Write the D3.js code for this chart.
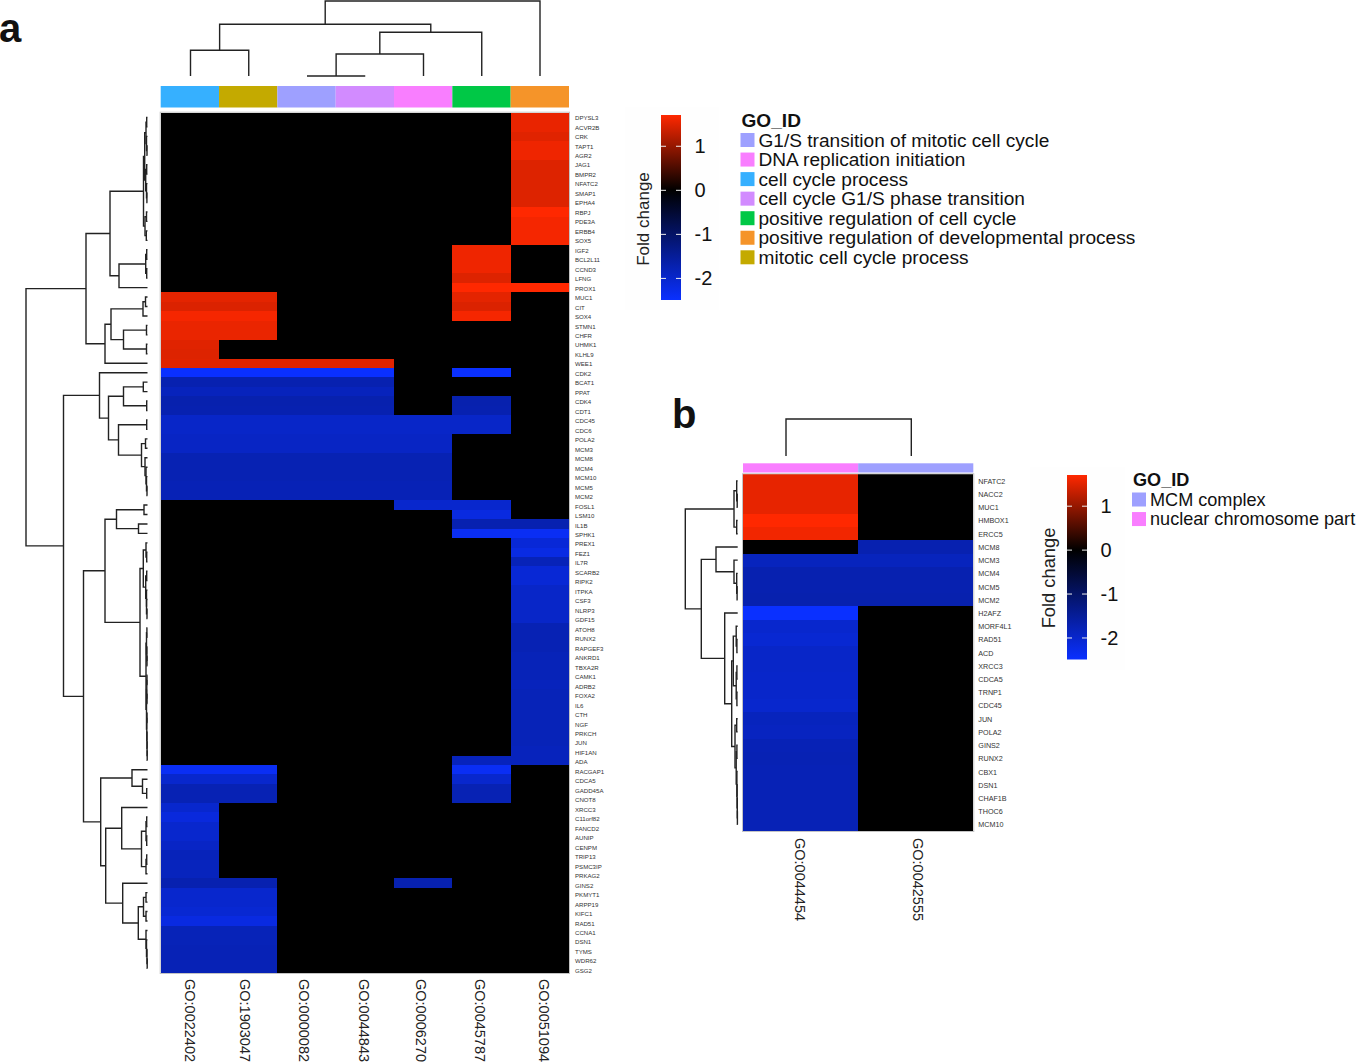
<!DOCTYPE html>
<html>
<head>
<meta charset="utf-8">
<script src="https://cdn.jsdelivr.net/npm/d3@7"></script>
<style>
  body { margin: 0; background: #fff; }
  text { font-family: "Liberation Sans", Arial, sans-serif; }
</style>
</head>
<body>
<div id="chart"></div>
<script>
// panel a
const columnsA = ['GO:0022402', 'GO:1903047', 'GO:0000082', 'GO:0044843', 'GO:0006270', 'GO:0045787', 'GO:0051094'];
const genesA = ['DPYSL3', 'ACVR2B', 'CRK', 'TAPT1', 'AGR2', 'JAG1', 'BMPR2', 'NFATC2', 'SMAP1', 'EPHA4',
  'RBPJ', 'PDE3A', 'ERBB4', 'SOX5', 'IGF2', 'BCL2L11', 'CCND3', 'LFNG', 'PROX1', 'MUC1',
  'CIT', 'SOX4', 'STMN1', 'CHFR', 'UHMK1', 'KLHL9', 'WEE1', 'CDK2', 'BCAT1', 'PPAT',
  'CDK4', 'CDT1', 'CDC45', 'CDC6', 'POLA2', 'MCM3', 'MCM8', 'MCM4', 'MCM10', 'MCM5',
  'MCM2', 'FOSL1', 'LSM10', 'IL1B', 'SPHK1', 'PREX1', 'FEZ1', 'IL7R', 'SCARB2', 'RIPK2',
  'ITPKA', 'CSF3', 'NLRP3', 'GDF15', 'ATOH8', 'RUNX2', 'RAPGEF3', 'ANKRD1', 'TBXA2R', 'CAMK1',
  'ADRB2', 'FOXA2', 'IL6', 'CTH', 'NGF', 'PRKCH', 'JUN', 'HIF1AN', 'ADA', 'RACGAP1',
  'CDCA5', 'GADD45A', 'CNOT8', 'XRCC3', 'C11orf82', 'FANCD2', 'AUNIP', 'CENPM', 'TRIP13', 'PSMC3IP',
  'PRKAG2', 'GINS2', 'PKMYT1', 'ARPP19', 'KIFC1', 'RAD51', 'CCNA1', 'DSN1', 'TYMS', 'WDR62', 'GSG2'];
const foldChangeA = [1.56, 1.56, 1.5, 1.6, 1.6, 1.48, 1.48, 1.48, 1.48, 1.48,
  1.71, 1.64, 1.64, 1.64, 1.6, 1.6, 1.6, 1.48, 1.71, 1.53,
  1.47, 1.64, 1.57, 1.57, 1.5, 1.48, 1.5, -2.49, -1.72, -1.84,
  -1.7, -1.72, -1.95, -1.95, -1.91, -1.91, -1.75, -1.75, -1.75, -1.78,
  -1.78, -2, -2.19, -1.72, -2.38, -2.1, -2.22, -1.8, -2.08, -2.08,
  -1.95, -1.95, -1.95, -1.95, -1.76, -1.76, -1.76, -1.8, -1.8, -1.8,
  -1.84, -1.8, -1.8, -1.8, -1.8, -1.8, -1.8, -1.84, -1.84, -2.38,
  -2, -1.76, -1.76, -2, -2.15, -2, -2, -1.92, -1.82, -1.85,
  -1.85, -1.72, -2, -2, -2.05, -2.2, -1.8, -1.8, -1.78, -1.78, -1.78];
// which columns (by index) each gene is annotated in
const membersA = ['6', '6', '6', '6', '6', '6', '6', '6', '6', '6',
  '6', '6', '6', '6', '5', '5', '5', '5', '56', '015',
  '015', '015', '01', '01', '0', '0', '0123', '01235', '0123', '0123',
  '01235', '01235', '012345', '012345', '01234', '01234', '01234', '01234', '01234', '01234',
  '01234', '45', '5', '56', '56', '6', '6', '6', '6', '6',
  '6', '6', '6', '6', '6', '6', '6', '6', '6', '6',
  '6', '6', '6', '6', '6', '6', '6', '6', '56', '015',
  '015', '015', '015', '0', '0', '0', '0', '0', '0', '0',
  '0', '014', '01', '01', '01', '01', '01', '01', '01', '01', '01'];
const goNamesA = ['G1/S transition of mitotic cell cycle', 'DNA replication initiation', 'cell cycle process',
  'cell cycle G1/S phase transition', 'positive regulation of cell cycle',
  'positive regulation of developmental process', 'mitotic cell cycle process'];
const goColorsA = ['#9ea0ff', '#f97eff', '#36b0ff', '#d28bff', '#00c846', '#f59429', '#c4aa00'];
const stripColorsA = ['#36b0ff', '#c4aa00', '#9ea0ff', '#d28bff', '#f97eff', '#00c846', '#f59429'];
// trees are [height, left, right], leaves are indices into the rows/columns
const rowTreeA = [121.5,
  [61.5,
    [37.5,
      [4, [2.8, [1.5, [0.8, 0, 1], [1, 2, [0.5, 3, 4]]], [1.8, [0.8, 5, 6], [1, 7, [0.6, 8, 9]]]], [2.5, [1, 10, 11], [1.2, 12, 13]]],
      [28.5, [1.8, [0.8, 14, 15], [0.8, 16, 17]], 18]],
    [42.5,
      [36.5, [4.5, [2, 19, 20], 21], [24, [1, 22, 23], [1, 24, 25]]],
      26]],
  [84,
    [48, 27,
      [39,
        [24, [4.2, 28, 29], [0.8, 30, 31]],
        [29, [0.8, 32, 33], [6, [2, 34, 35], [2.5, 36, [1.5, 37, [1, 38, [0.5, 39, 40]]]]]]]],
    [64,
      [42.5,
        [31, [3.5, 41, 42], [9, 43, 44]],
        [7.5,
          [4.2, [1.5, 45, [0.8, 46, 47]], [1.8, [0.8, 48, 49], [1, 50, [1, 51, [0.5, 52, 53]]]]],
          [1.5, [1, [0.6, 54, 55], [0.6, 56, [0.5, 57, 58]]], [1, [0.7, [0.5, 59, 60], [0.5, 61, 62]], [0.7, [0.5, 63, 64], [0.5, 65, [0.4, 66, [0.3, 67, 68]]]]]]]],
      [46.8,
        [15.5, 69, [5, 70, [0.8, 71, 72]]],
        [41.8,
          [25.8, 73, [6, [1.5, [0.8, 74, 75], [0.8, 76, 77]], [1.5, [0.8, 78, 79], 80]]],
          [24.8, 81, [9.2, [4, [1.5, 82, 83], [1.5, 84, 85]], [1.5, 86, [1, 87, [0.5, 88, [0.3, 89, 90]]]]]]]]]]];
const colTreeA = [75, [51.7, [25.7, 0, 1], [43.7, [22, [0, 2, 3], 4], 5]], 6];

// panel b
const columnsB = ['GO:0044454', 'GO:0042555'];
const genesB = ['NFATC2', 'NACC2', 'MUC1', 'HMBOX1', 'ERCC5', 'MCM8', 'MCM3', 'MCM4', 'MCM5', 'MCM2',
  'H2AFZ', 'MORF4L1', 'RAD51', 'ACD', 'XRCC3', 'CDCA5', 'TRNP1', 'CDC45', 'JUN', 'POLA2',
  'GINS2', 'RUNX2', 'CBX1', 'DSN1', 'CHAF1B', 'THOC6', 'MCM10'];
const foldChangeB = [1.55, 1.55, 1.55, 1.71, 1.62, -1.72, -1.85, -1.72, -1.72, -1.7,
  -2.49, -2, -2.05, -1.95, -1.95, -1.97, -1.97, -2, -1.85, -1.87,
  -1.78, -1.76, -1.78, -1.78, -1.78, -1.78, -1.78];
const membersB = ['0', '0', '0', '0', '0', '1', '01', '01', '01', '01',
  '0', '0', '0', '0', '0', '0', '0', '0', '0', '0',
  '0', '0', '0', '0', '0', '0', '0'];
const goNamesB = ['MCM complex', 'nuclear chromosome part'];
const goColorsB = ['#9ea0ff', '#f97eff'];
const stripColorsB = ['#f97eff', '#9ea0ff'];
const rowTreeB = [52.4,
  [3.7, [1, 0, [0.5, 1, 2]], [1, 3, 4]],
  [36.4,
    [21.7, 5, [3.7, 6, [1, 7, [0.6, 8, 9]]]],
    [13, 10,
      [6,
        [4.4, [1.5, 11, [0.8, 12, 13]], [1.5, [0.8, 14, 15], [0.8, 16, 17]]],
        [2.7, [1, 18, 19], [1.5, [0.8, 20, 21], [0.8, 22, [0.6, 23, [0.4, 24, [0.3, 25, 26]]]]]]]]]];
const colTreeB = [37, 0, 1];

const legendTicks = [-2, -1, 0, 1];
const colorMin = -2.49;
const colorMax = 1.71;

const color = d3.scaleLinear()
  .domain([colorMin, 0, colorMax])
  .range(['#0a30ff', '#000000', '#ff2800']);

const svg = d3.select('#chart').append('svg')
  .attr('width', 1357)
  .attr('height', 1064)
  .style('display', 'block');

const gradient = svg.append('defs').append('linearGradient')
  .attr('id', 'foldGradient')
  .attr('x1', 0).attr('x2', 0).attr('y1', 1).attr('y2', 0);
gradient.selectAll('stop')
  .data([colorMin, 0, colorMax])
  .join('stop')
    .attr('offset', d => (d - colorMin) / (colorMax - colorMin))
    .attr('stop-color', d => color(d));

function dendrogram(g, tree, leafPos, heightPos, horizontal) {
  const segs = [];
  function walk(node) {
    if (!Array.isArray(node)) return { p: leafPos(node), h: heightPos(0) };
    const a = walk(node[1]);
    const b = walk(node[2]);
    const h = heightPos(node[0]);
    segs.push([[a.h, a.p], [h, a.p], [h, b.p], [b.h, b.p]]);
    return { p: (a.p + b.p) / 2, h: h };
  }
  walk(tree);
  const line = d3.line().x(d => horizontal ? d[0] : d[1]).y(d => horizontal ? d[1] : d[0]);
  g.selectAll('path')
    .data(segs)
    .join('path')
      .attr('d', line)
      .attr('fill', 'none')
      .attr('stroke', '#222')
      .attr('stroke-width', 1.4);
}

function heatmap(opt) {
  const x = d3.scaleBand().domain(opt.columns).range(opt.xRange);
  const y = d3.scaleBand().domain(opt.genes).range(opt.yRange);
  const labelY = d3.scaleBand().domain(opt.genes).range(opt.geneRange);

  const cells = opt.genes.flatMap((gene, i) => opt.columns.map((col, j) => ({
    gene: gene,
    col: col,
    value: opt.members[i].includes(String(j)) ? opt.values[i] : 0
  })));

  svg.append('g')
    .attr('shape-rendering', 'crispEdges')
    .selectAll('rect')
    .data(cells)
    .join('rect')
      .attr('x', d => x(d.col))
      .attr('y', d => y(d.gene))
      .attr('width', x.bandwidth())
      .attr('height', y.bandwidth())
      .attr('fill', d => color(d.value));

  svg.append('rect')
    .attr('x', opt.xRange[0] - 0.5)
    .attr('y', opt.yRange[0] - 0.5)
    .attr('width', opt.xRange[1] - opt.xRange[0] + 1)
    .attr('height', opt.yRange[1] - opt.yRange[0] + 1)
    .attr('fill', 'none')
    .attr('stroke', '#c4c4c4');

  // column annotation strip
  svg.append('g')
    .selectAll('rect')
    .data(opt.columns)
    .join('rect')
      .attr('x', d => x(d))
      .attr('y', opt.stripY[0])
      .attr('width', x.bandwidth())
      .attr('height', opt.stripY[1] - opt.stripY[0])
      .attr('fill', (d, i) => opt.stripColors[i]);

  // gene labels
  svg.append('g')
    .selectAll('text')
    .data(opt.genes)
    .join('text')
      .attr('x', opt.xRange[1] + opt.geneGap)
      .attr('y', d => labelY(d) + labelY.bandwidth() / 2)
      .attr('dy', '0.35em')
      .attr('font-size', opt.geneSize)
      .attr('fill', '#333')
      .text(d => d);

  // GO labels, rotated
  svg.append('g')
    .selectAll('text')
    .data(opt.columns)
    .join('text')
      .attr('transform', (d, i) => `translate(${x(d) + x.bandwidth() / 2 + opt.labelNudge[i]},${opt.labelY}) rotate(90)`)
      .attr('dy', '0.35em')
      .attr('font-size', 14.5)
      .attr('fill', '#222')
      .text(d => d);

  const rowHeight = d3.scaleLinear()
    .domain([0, opt.rowTree[0]])
    .range([opt.rowLeaf, opt.rowRoot]);
  dendrogram(svg.append('g'), opt.rowTree, i => y(opt.genes[i]) + y.bandwidth() / 2, rowHeight, true);

  const colPoint = d3.scalePoint().domain(d3.range(opt.columns.length)).range(opt.colLeafRange);
  const colHeight = d3.scaleLinear()
    .domain([0, opt.colTree[0]])
    .range([opt.colLeaf, opt.colRoot]);
  dendrogram(svg.append('g'), opt.colTree, colPoint, colHeight, false);
}

function legend(opt) {
  const y = d3.scaleLinear().domain([colorMin, colorMax]).range(opt.barY);
  const barW = 20;

  svg.append('rect')
    .attr('x', opt.backX[0])
    .attr('y', opt.barY[1] - 8)
    .attr('width', opt.backX[1] - opt.backX[0])
    .attr('height', opt.barY[0] - opt.barY[1] + 18)
    .attr('fill', '#fefefe');

  svg.append('rect')
    .attr('x', opt.barX)
    .attr('y', opt.barY[1])
    .attr('width', barW)
    .attr('height', opt.barY[0] - opt.barY[1])
    .attr('fill', 'url(#foldGradient)');

  svg.selectAll(null)
    .data(legendTicks)
    .join('path')
      .attr('d', d => `M${opt.barX},${y(d)}h5M${opt.barX + barW - 5},${y(d)}h5`)
      .attr('stroke', '#eee')
      .attr('stroke-width', 1);

  const axis = svg.append('g')
    .attr('transform', `translate(${opt.barX + barW},0)`)
    .call(d3.axisRight(y).tickValues(legendTicks).tickSize(0).tickPadding(13.5).tickFormat(String));
  axis.select('.domain').remove();
  axis.selectAll('text')
    .attr('font-size', 20)
    .attr('font-family', '"Liberation Sans", Arial, sans-serif')
    .attr('fill', '#111');

  svg.append('text')
    .attr('transform', `translate(${opt.titleX},${opt.titleY}) rotate(-90)`)
    .attr('text-anchor', 'middle')
    .attr('font-size', opt.titleSize)
    .attr('fill', '#222')
    .text('Fold change');

  svg.append('text')
    .attr('x', opt.keyX)
    .attr('y', opt.keyY - 19.5)
    .attr('dy', '0.35em')
    .attr('font-size', opt.keySize)
    .attr('font-weight', 'bold')
    .attr('fill', '#111')
    .text('GO_ID');

  const row = svg.append('g')
    .selectAll('g')
    .data(opt.names)
    .join('g')
      .attr('transform', (d, i) => `translate(${opt.keyX},${opt.keyY + i * 19.55})`);
  row.append('rect')
    .attr('x', -1)
    .attr('y', -7)
    .attr('width', 14)
    .attr('height', 14)
    .attr('fill', (d, i) => opt.colors[i]);
  row.append('text')
    .attr('x', 17)
    .attr('dy', '0.35em')
    .attr('font-size', opt.keySize)
    .attr('fill', '#111')
    .text(d => d);
}

legend({
  barX: 661, barY: [300, 115], backX: [625, 719], titleX: 649, titleY: 219, titleSize: 17,
  keyX: 741.5, keyY: 140, keySize: 19.1, names: goNamesA, colors: goColorsA
});

legend({
  barX: 1067, barY: [659.5, 475], backX: [1030, 1125], titleX: 1055, titleY: 578, titleSize: 18.3,
  keyX: 1133, keyY: 499.5, keySize: 18.1, names: goNamesB, colors: goColorsB
});

heatmap({
  columns: columnsA, genes: genesA, values: foldChangeA, members: membersA,
  xRange: [160.7, 569], yRange: [112.7, 973], geneRange: [113.2, 975.5],
  stripY: [86, 107.5], stripColors: stripColorsA,
  geneGap: 6, geneSize: 6.1,
  labelY: 979, labelNudge: [0, -3, -2, -1, -2, -1, 4],
  rowTree: rowTreeA, rowLeaf: 147.5, rowRoot: 26,
  colTree: colTreeA, colLeafRange: [190.5, 540], colLeaf: 76, colRoot: 1
});

heatmap({
  columns: columnsB, genes: genesB, values: foldChangeB, members: membersB,
  xRange: [743, 973.3], yRange: [474.3, 831], geneRange: [474.7, 831.5],
  stripY: [463.3, 472.5], stripColors: stripColorsB,
  geneGap: 5, geneSize: 7.2,
  labelY: 838, labelNudge: [0, 2.5],
  rowTree: rowTreeB, rowLeaf: 737.7, rowRoot: 685.3,
  colTree: colTreeB, colLeafRange: [786, 911.3], colLeaf: 456, colRoot: 419
});

svg.append('text')
  .attr('x', -1).attr('y', 42)
  .attr('font-size', 40).attr('font-weight', 'bold').attr('fill', '#111')
  .text('a');
svg.append('text')
  .attr('x', 672).attr('y', 428)
  .attr('font-size', 40).attr('font-weight', 'bold').attr('fill', '#111')
  .text('b');
</script>
</body>
</html>
